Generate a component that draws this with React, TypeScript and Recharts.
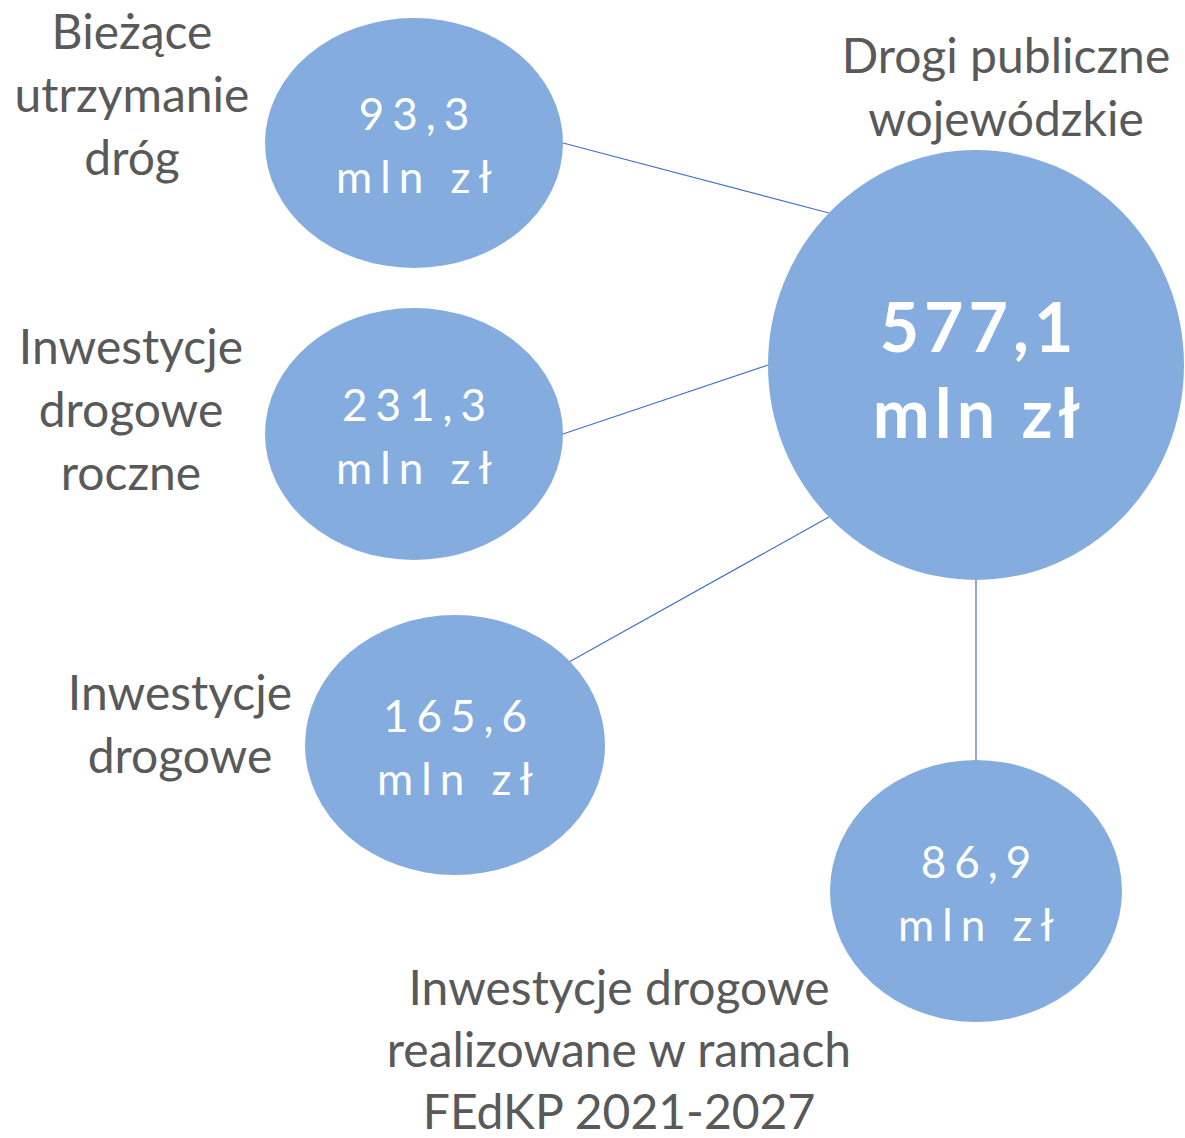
import { ReferenceLine, Scatter, ScatterChart, XAxis, YAxis } from "recharts";

// categories and values (mln zł)
const categories = [
  "Bieżące utrzymanie dróg",
  "Inwestycje drogowe roczne",
  "Inwestycje drogowe",
  "Inwestycje drogowe realizowane w ramach FEdKP 2021-2027",
  "Drogi publiczne wojewódzkie",
];
const values = [93.3, 231.3, 165.6, 86.9, 577.1];
const unit = "mln zł";

// bubble centres in diagram units
const bubbleX = [414, 414, 455, 976, 976];
const bubbleY = [143, 434, 745, 891, 365];

// category captions, one entry per line
const captionLines = [
  ["Bieżące", "utrzymanie", "dróg"],
  ["Inwestycje", "drogowe", "roczne"],
  ["Inwestycje", "drogowe"],
  ["Inwestycje drogowe", "realizowane w ramach", "FEdKP 2021-2027"],
  ["Drogi publiczne", "wojewódzkie"],
];
const captionX = [132, 131, 180, 619, 1006];
const captionY = [30, 345, 691, 986, 54];

const W = 1185;
const H = 1138;
const FILL = "#84ACDE";
const LINE = "#4472C4";
const TEXT = "#595959";
const FONT = "Lato, 'Open Sans', sans-serif";

// ellipse radii per bubble (style only)
const radii = [
  [149, 125],
  [149, 126],
  [150, 130],
  [146, 131],
  [208, 215],
];
const HUB = 4;
// attach angles (deg) on the small bubble and on the hub
const fromAngle = [0, 0, -40, -90];
const toAngle = [225, 180, 135, 90];

const edge = (i: number, deg: number) => {
  const a = (deg * Math.PI) / 180;
  return { x: bubbleX[i] + radii[i][0] * Math.cos(a), y: bubbleY[i] + radii[i][1] * Math.sin(a) };
};

const fmt = (v: number) => v.toFixed(1).replace(".", ",");

const bubbles = values.map((v, i) => ({ i, x: bubbleX[i], y: bubbleY[i], value: v, name: categories[i] }));
const captions = captionLines.map((lines, i) => ({ i, x: captionX[i], y: captionY[i], lines }));

function Bubble(props: any) {
  const { cx, cy, payload } = props;
  const [rx, ry] = radii[payload.i];
  const big = payload.i === HUB;
  const size = big ? 68 : 44;
  const d1 = big ? -40 : -30;
  const d2 = big ? 46 : 33;
  const tx = cx + (big ? 3 : 4);
  return (
    <g>
      <ellipse cx={cx} cy={cy} rx={rx} ry={ry} fill={FILL} />
      <text
        fill="#fff"
        fontFamily={FONT}
        fontSize={size}
        fontWeight={big ? 700 : 400}
        letterSpacing={big ? 5 : 8}
        textAnchor="middle"
        dominantBaseline="central"
      >
        <tspan x={tx} y={cy + d1}>{fmt(payload.value)}</tspan>
        <tspan x={tx} y={cy + d2}>{unit}</tspan>
      </text>
    </g>
  );
}

function Caption(props: any) {
  const { cx, cy, payload } = props;
  const gap = payload.lines.length === 3 && payload.i === 3 ? 62 : 63;
  return (
    <text fill={TEXT} fontFamily={FONT} fontSize={48} textAnchor="middle" dominantBaseline="central">
      {payload.lines.map((l: string, k: number) => (
        <tspan key={k} x={cx} y={cy + k * gap}>
          {l}
        </tspan>
      ))}
    </text>
  );
}

export default function App() {
  return (
    <div style={{ position: "absolute", left: 0, top: 0, background: "#fff" }}>
      <ScatterChart width={W} height={H} margin={{ top: 0, right: 0, bottom: 0, left: 0 }}>
        <XAxis type="number" dataKey="x" domain={[0, W]} hide allowDataOverflow />
        <YAxis type="number" dataKey="y" domain={[0, H]} reversed hide allowDataOverflow />
        {fromAngle.map((fa, i) => (
          <ReferenceLine
            key={i}
            segment={[edge(i, fa), edge(HUB, toAngle[i])]}
            stroke={LINE}
            strokeWidth={1.2}
            ifOverflow="visible"
          />
        ))}
        <Scatter data={bubbles} shape={Bubble} isAnimationActive={false} />
        <Scatter data={captions} shape={Caption} isAnimationActive={false} />
      </ScatterChart>
    </div>
  );
}
